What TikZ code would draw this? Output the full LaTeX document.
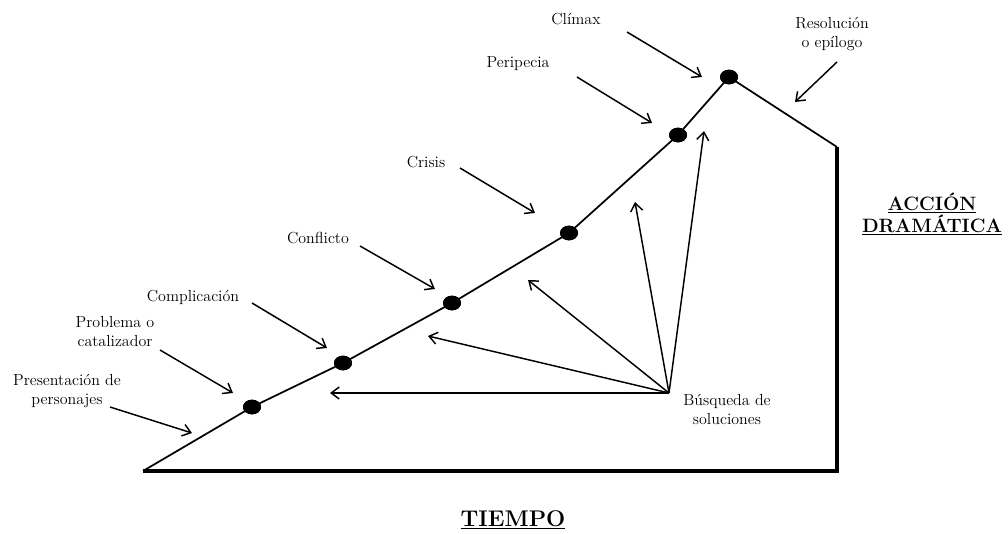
\documentclass[tikz,border=0pt]{standalone}
\usepackage{fontspec}
\usetikzlibrary{arrows.meta,shapes.geometric}
\tikzset{
  lbl/.style={font=\fontsize{12}{14.25}\selectfont\addfontfeatures{LetterSpace=9}, align=center, inner sep=0pt},
  ttl/.style={font=\fontsize{14.5}{17}\selectfont\bfseries\addfontfeatures{LetterSpace=8}, align=center, inner sep=0pt},
  ttlb/.style={font=\fontsize{17}{19}\selectfont\bfseries\addfontfeatures{LetterSpace=10}, align=center, inner sep=0pt},
  ptr/.style={-{Straight Barb[length=6pt,width=9pt]}, line width=1.1pt},
  dotn/.style={ellipse, fill=black, minimum width=13.5pt, minimum height=11pt, inner sep=0pt},
  thin line/.style={line width=1.3pt},
  thick line/.style={line width=3pt}
}
\begin{document}
\begin{tikzpicture}[x=0.75pt,y=-0.75pt]
\useasboundingbox (0,0) rectangle (1008,533);
% structure points
\coordinate (o) at (143,471);
\coordinate (rt) at (837,147);
\coordinate (rb) at (837,471);
\node[dotn] (d1) at (252,407) {};
\node[dotn] (d2) at (343,363) {};
\node[dotn] (d3) at (452,303) {};
\node[dotn] (d4) at (569,233) {};
\node[dotn] (d5) at (678,135) {};
\node[dotn] (d6) at (729,77) {};
\draw[thin line, line join=round] (o) -- (d1.center) -- (d2.center) -- (d3.center) -- (d4.center) -- (d5.center) -- (d6.center) -- (rt);
\draw[thick line, line join=miter] (rt) -- (rb) -- (o);
% redraw dots above lines
\foreach \n in {d1,d2,d3,d4,d5,d6} \fill (\n) ellipse (6.75pt and 5.5pt);
% labels
\node[lbl] (climax) at (576,19) {Clímax};
\node[lbl] (resol) at (832,34) {Resolución\\o epílogo};
\node[lbl] (perip) at (518,64) {Peripecia};
\node[lbl] (crisis) at (426,162) {Crisis};
\node[lbl] (confl) at (318,238) {Conflicto};
\node[lbl] (compl) at (193,297) {Complicación};
\node[lbl] (probl) at (115,332) {Problema o\\catalizador};
\node[lbl] (pres) at (67,391) {Presentación de\\personajes};
\node[lbl] (busq) at (727,409) {Búsqueda de\\soluciones};
\node[ttl] (accion) at (932,214) {\underline{ACCIÓN}\\\underline{DRAMÁTICA}};
\node[ttlb] (tiempo) at (513,520) {\underline{TIEMPO}};
% label arrows
\coordinate (pres s) at (110,407);  \coordinate (pres e) at (192,433);
\coordinate (probl s) at (160,350); \coordinate (probl e) at (233,393);
\coordinate (compl s) at (252,303); \coordinate (compl e) at (327,348);
\coordinate (confl s) at (360,246); \coordinate (confl e) at (435,289);
\coordinate (crisis s) at (460,168); \coordinate (crisis e) at (535,213);
\coordinate (perip s) at (577,77);  \coordinate (perip e) at (652,123);
\coordinate (climax s) at (627,32); \coordinate (climax e) at (702,77);
\coordinate (resol s) at (837,62);  \coordinate (resol e) at (795,102);
\foreach \n in {pres,probl,compl,confl,crisis,perip,climax,resol}
  \draw[ptr] (\n\space s) -- (\n\space e);
% search fan
\coordinate (bs) at (669,393);
\coordinate (f1) at (330,393);
\coordinate (f2) at (428,336);
\coordinate (f3) at (528,280);
\coordinate (f4) at (635,202);
\coordinate (f5) at (704,131);
\foreach \f in {f1,f2,f3,f4,f5}
  \draw[ptr] (bs) -- (\f);
\end{tikzpicture}
\end{document}
